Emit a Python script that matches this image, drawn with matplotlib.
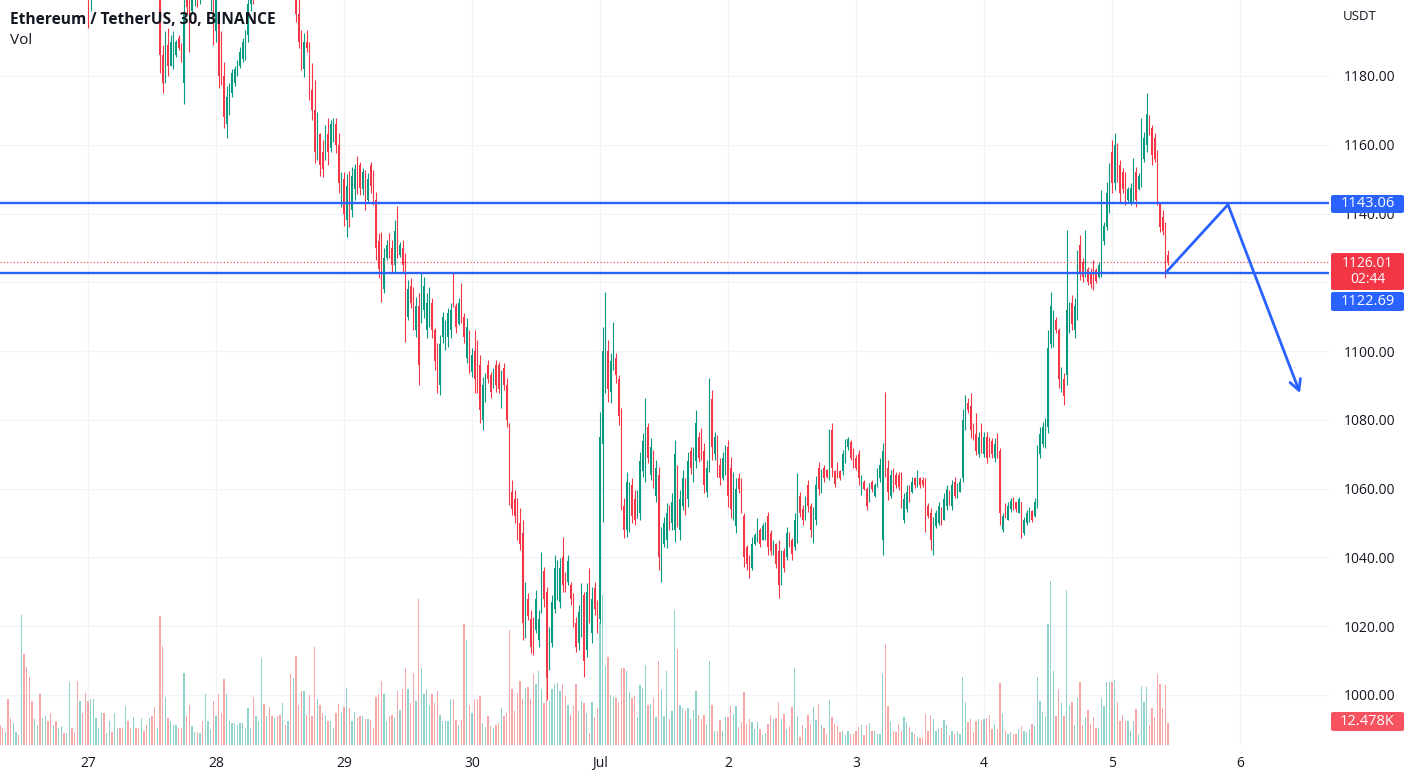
import matplotlib
matplotlib.use("Agg")
import matplotlib.pyplot as plt
from matplotlib.patches import FancyBboxPatch
import numpy as np

# ---------------- data (30-min bars, index 0 = 27 Jun 00:00) ----------------
start_index = -33

opens = [
    1232,1228,1226,1231,1227,1224,1229,1233,1231,1242,1236,1230,1225,1221,1226,1229,1223,1227,1231,1228,1224,1227,1223,1226,1229,1227,1229,1235,1233,1231,1224,1228,1225,
    1219,1203,1209,1213,1217,1220,1224,1221,1226,1230,1227,1233,1236,1232,1228,1231,1226,1222,1225,1219,1215,1218,1213,1210,1214,1209,1206,1210,
    1186,1178,1189,1183,1185,1186,1191,1188,1178,1205,1200,1199,1202,1208,1204,1210,1206,1209,1203,1211,1193,1198,1186,1180,1166,1170,1175,1178,1181,1183,1185,1186,1192,1201,1206,
    1204,1209,1214,1220,1216,1220,1217,1214,1218,1216,1211,1215,1210,1212,1208,
    1209,1198,1190,1182,1190,1188,1176,1170,1157,1163,1158,1156,1163,1159,1161,1166,1160,1146,1150,1138,1148,1141,1147,1155,1154,1147,1152,1144,1154,1150,
    1144,1132,1131,1118,1127,1132,1130,1125,1139,1128,1130,1126,1110,1119,1116,1106,1113,1110,1112,1106,
    1109,1114,1106,1100,1090,1104,1102,1104,1106,1120,1113,1108,1118,1110,1098,1105,1094,1100,1097,1096,
    1080,1087,1096,1093,1090,1096,1096,1086,1095,1090,
    1078,1059,1057,1055,1050,1047,1018,1028,1022,1020,1019,1016,1025,1036,1030,1008,1015,1025,1029,1027,
    1040,1035,1033,1032,1028,1021,1015,1019,1029,1013,1034,1018,1031,1026,
    1022,1073,1098,1100,1088,1096,1098,1092,1082,1055,1048,1050,1061,1057,1052,1053,1065,1066,1078,1064,
    1070,1058,1064,1035,1044,1045,1054,1050,1048,1066,1048,1055,1061,1057,1071,1063,1068,1075,1076,1071,
    1059,1066,1086,1070,1074,1067,1063,1066,1072,1066,1053,1049,1063,1062,1052,1043,1040,1037,1044,
    1045,1048,1045,1046,1052,1047,1041,1044,1042,1033,1042,1040,1047,1045,1043,1046,1058,1054,1052,1061,
    1055,1046,1051,1066,1060,1066,1065.5,1064,1077,1065,1067,1065,1065,1068,1072,1073.5,1071,1069,1070,1059,
    1062,1060,1056,1062,1058,1061,1063,1045,1078,1066,
    1058,1065,1064,1064,1063,1051,1054,1060,1059,1063,1061,1063,1062.5,1061,1055,1053,1044,1049,1050,1054,
    1051,1055,1059,1055,1062,1058,1059,1063,1079,1085,1084,1078,1076,1070,1078,1070,1075,1074,1074,1069,
    1075,1071,1048,1055,1051,1054,1057,1056,1053,1056,
    1047,1050,1051,1053.5,1052,1056,1070,1073,1073,1078,1102,1103,1109,1106,1089,1092,1093,1107,1114,1106,
    1111,1131,1126,1123,1124,1123,1125,1123.5,1121.5,1124,1132,1136,1142,1158,1149,1159,1154,1152,1150,1144,
    1143.5,1145,1152,1147,1149,1156,1160,1168,1165,1162,1156,1143,1139,1135,1128,
]

highs = [
    1235,1230,1234,1233,1229,1231,1236,1235,1246,1245,1238,1232,1227,1228,1231,1231,1229,1233,1233,1230,1229,1229,1228,1231,1231,1231,1238,1237,1235,1233,1230,1230,1227,
    1221,1212,1215,1219,1222,1226,1226,1229,1232,1232,1235,1238,1238,1234,1233,1233,1228,1227,1227,1221,1220,1220,1215,1216,1216,1211,1213,1213,
    1189,1193,1194,1192,1193,1190.5,1192,1189.6,1203,1210,1205,1205,1210,1212,1213,1214,1212,1215,1215,1214,1206,1199,1193,1184,1177,1178,1182,1183,1184.7,1188.4,1191,1193.4,1204,1208,1210,
    1212,1216,1223,1222,1222,1224,1221,1220,1223,1219,1217,1218,1214,1215,1213,
    1212,1203,1193.4,1192.5,1193.4,1190,1183.8,1178.8,1169.5,1163.4,1161.4,1165.8,1167.8,1167.2,1167.8,1167.8,1163.4,1152.1,1152.1,1151.5,
    1152.4,1153.6,1154.5,1156.8,1155,1153.3,1152.7,1151.8,1155,1152.7,
    1146.3,1134.3,1134.6,1130,1132.3,1134.3,1132.3,1138.1,1142.2,1131.7,1132.3,1128.5,1120.7,1121.3,1118.6,1115.7,1116.9,1122.7,1121.6,1116.9,
    1118.6,1115.4,1106.7,1102.4,1104.7,1111.4,1109,1112.5,1114,1122.7,1114,1115.4,1119.8,1111.1,1109.6,1106.1,1100.9,1106.1,1103.2,1098.9,
    1092.5,1093.6,1097.4,1093.9,1095.1,1097.4,1096.8,1094.5,1096.5,1092.2,
    1079.1,1062.5,1059.6,1057.3,1054.4,1050.9,1032.9,1029.7,1024.7,1022.7,1030.5,1024.7,1041.6,1037.2,1031.4,1019.8,1029.1,1040.7,1039.3,1039.8,
    1046,1035.8,1040.7,1032.9,1029.7,1022.7,1026.2,1032.6,1030,1032.6,1036.9,1031.4,1032.9,1027.6,
    1082.3,1107,1117.2,1103.2,1099.5,1108.5,1099.5,1093,1083.5,1057.3,1064.8,1061.9,1063.1,1059.6,1059.6,1070.6,1076.2,1086.4,1079.1,1074.8,
    1071.2,1068.3,1066.3,1048.9,1051.8,1055.8,1055.3,1058.8,1074.2,1067,1059.6,1065.4,1063,1070.6,1072,1072.2,1082.9,1076.5,1077.6,1073.3,
    1068.3,1092.2,1088.7,1076.5,1075.6,1068.9,1070.6,1072.7,1074.2,1069.2,1064.9,1063.1,1064.5,1063.1,1052.9,1043.6,1040.7,1046,1047.1,
    1051.5,1048.6,1050,1050.3,1053.2,1048,1045.1,1044.2,1045.1,1042.2,1042.8,1048.9,1047.4,1045.7,1052.9,1064.5,1059,1055.3,1057.9,1062.5,
    1055.8,1054.7,1063.7,1067.8,1065.7,1066.9,1065.7,1077.4,1079.1,1065.4,1067.8,1065.4,1071.2,1074.5,1075,1074.2,1071.8,1069.8,1071.2,1064,
    1062.5,1060.5,1061.6,1062.5,1061.6,1066,1068.9,1073.3,1088.1,1068.3,
    1065.4,1066,1064.8,1064.8,1064.8,1058.7,1061,1061,1063.4,1063.4,1065.4,1063.4,1063.4,1063.1,1055.8,1054.4,1051.8,1053.8,1056.1,1054.7,
    1058.7,1061,1059.6,1062.5,1063.4,1061.6,1063.1,1083.2,1087.2,1086.4,1087.8,1079.1,1082,1076.5,1079.1,1076.5,1076.5,1075,1074.8,1074.8,
    1076.2,1071.8,1052.9,1055.8,1056.1,1057.3,1057.6,1056.1,1057.6,1056.1,
    1051.8,1053.8,1054.7,1053.8,1057.3,1072.7,1077.9,1079.4,1080.6,1106.1,1117.2,1112,1110,1106.7,1095.4,1093.6,1135.2,1114.3,1116.3,1115.4,
    1129.4,1133.8,1127.1,1135.2,1124.5,1124.2,1126.5,1124.2,1126,1146.9,1137.5,1149.2,1154.7,1161.4,1163.4,1160.5,1155.6,1153.2,1152.1,1147.7,
    1148.9,1156.2,1153.5,1151.8,1167.8,1163.7,1175.1,1168.7,1165.8,1163.4,1158.5,1143.1,1141,1137.5,1129.4,
]

lows = [
    1225,1223,1224,1225,1221,1222,1227,1228,1229,1233,1227,1222,1217,1219,1224,1220,1221,1225,1226,1221,1222,1220,1221,1224,1225,1225,1227,1230,1228,1221,1222,1222,1215,
    1194,1199,1206,1210,1214,1217,1218,1219,1224,1225,1225,1230,1230,1226,1226,1224,1219,1220,1217,1213,1213,1211,1208,1208,1207,1204,1204,1181,
    1175,1178,1180,1183,1182,1185.5,1187.5,1184,1172,1198,1187,1198,1200.5,1200,1201,1203,1202.5,1204,1199,1189,1190,1176.5,1177.4,1165,1162,1168.7,1174,1177,1180,1182.3,1184,1184.7,1190,1199,1201,
    1203,1206,1212,1213,1213,1215,1212,1210,1214,1209,1207,1208,1205,1206,1204,
    1195.7,1188,1181.7,1179.7,1187,1173,1167.2,1154.7,1155.6,1151,1150.5,1155.6,1154.2,1158,1160.8,1157.7,1146,1142,1136.5,1133.3,
    1136,1139,1143.9,1145.8,1145.4,1145.4,1141,1143.4,1146,1142.5,
    1126.5,1121.3,1114.3,1116.9,1126.5,1127,1123,1123,1127,1127.3,1123,1102.6,1109,1112.5,1106.1,1104,1090.1,1108.2,1109.6,1103.8,
    1107,1103.8,1094.5,1087.8,1087.2,1102.4,1100.3,1101.2,1103.8,1112.8,1105.3,1107.6,1108.2,1102.4,1096.5,1093.6,1092.5,1087.8,1087.8,1079.1,
    1077.1,1085.2,1090.7,1086.4,1089.3,1088.1,1087.8,1083.5,1088.7,1078,
    1055.3,1052.3,1050,1045.1,1042.2,1016,1016.6,1021.8,1012.2,1011.6,1018,1013.9,1023.8,1025.6,998.6,1007.3,1014,1023.8,1027.6,1025.3,
    1030,1030,1032,1026.2,1019.8,1012.5,1013.1,1016.9,1005.2,1011,1020.9,1015.1,1023.3,1018,
    1021,1050.3,1087.8,1085.2,1085,1094.5,1090.7,1078.5,1053.8,1045.6,1045.9,1047.4,1050,1049.4,1051.5,1050.9,1063.4,1062,1067.5,1062.5,
    1060.2,1056.1,1036.4,1032.9,1043,1042.8,1047.9,1047.9,1044.5,1048.9,1045.1,1053.8,1052.3,1054.7,1064.2,1062,1066,1067.8,1068.3,1058.7,
    1057.6,1064.9,1068.3,1068.3,1063.4,1061,1062.5,1064,1054.7,1051.5,1050.9,1047.1,1058.7,1052.9,1037.2,1036.4,1034,1036.4,1043.6,
    1044.5,1043,1045,1045,1040.7,1040.7,1040.7,1037,1028.2,1032,1035.8,1039.3,1043,1039.3,1042.2,1044.2,1051.8,1049.4,1050.9,1053.2,
    1046,1044.2,1049.4,1058.2,1058.7,1061.9,1063.1,1062.5,1063.4,1060.5,1063.1,1062.5,1064,1067.5,1071.2,1068.3,1066,1065.4,1061,1058.2,
    1059.6,1053.8,1056,1059,1057.6,1060.5,1062,1040.7,1063.4,1056.7,
    1057.3,1059,1060.2,1059.6,1054.4,1050,1053.2,1056.1,1058.7,1060.2,1060.5,1060.2,1060.5,1047.4,1051.5,1042.2,1040.7,1048.6,1049.4,1049.4,
    1050.9,1053.8,1055.3,1053.8,1057.3,1057.3,1059,1062,1077.1,1082,1074.8,1074.2,1069.8,1069.2,1070.4,1069.2,1067.5,1069.2,1068.9,1067.8,
    1068.9,1049.4,1047.4,1051.5,1050.9,1053.2,1053.8,1053.2,1052.9,1045.7,
    1046.5,1049.4,1050.3,1050.3,1051.8,1054.4,1068.9,1072.1,1071.8,1076.2,1100.9,1101.2,1105.3,1089.3,1088.1,1084.3,1090.1,1105.3,1106.1,1103.8,
    1109,1120.7,1120.1,1121.6,1119.2,1118.4,1117.8,1119.8,1121.3,1121.6,1130.9,1135.2,1140.2,1146,1146.9,1149.2,1143.1,1146,1142.5,1143.4,
    1142.5,1143.4,1141.9,1146.9,1147.7,1155,1157.9,1162.8,1154.1,1155,1142.5,1134.6,1133.8,1121.3,1125,
]

closes = [
    1228,1226,1231,1227,1224,1229,1233,1231,1242,1236,1230,1225,1221,1226,1229,1223,1227,1231,1228,1224,1227,1223,1226,1229,1227,1229,1235,1233,1231,1224,1228,1225,1219,
    1203,1209,1213,1217,1220,1224,1221,1226,1230,1227,1233,1236,1232,1228,1231,1226,1222,1225,1219,1215,1218,1213,1210,1214,1209,1206,1210,1186,
    1178,1189,1183,1190,1191,1190,1188,1185,1198,1200,1190,1204,1208,1204,1210,1206,1209,1212,1211,1193,1203,1180,1179,1168,1174,1176,1181,1182,1184,1187,1190,1192,1201,1206,1204,
    1209,1214,1220,1216,1220,1217,1214,1218,1216,1211,1215,1210,1212,1208,1209,
    1198,1190,1184,1190,1188,1176,1170,1158,1166,1154,1153,1163,1158,1166,1166,1160,1149,1150,1140,1148,
    1141,1151,1153,1148,1147.5,1152,1143,1150,1148,1144,
    1130,1124,1118,1127,1131,1128,1125,1135,1130,1131,1125,1108,1118,1114,1108,1113,1096,1120,1119,1114,
    1116,1106,1097,1091,1102,1110,1107,1111,1112,1115,1107,1114,1110,1104,1107,1096,1099,1092,1090,1083,
    1090,1092,1092,1088,1094,1090,1089,1093,1090,1080,
    1058,1054,1052,1047,1044,1021,1030,1023,1014,1013,1028,1022,1038,1028,1005,1017,1027,1037,1036,1037,
    1032,1031,1039,1028,1022,1014,1024,1030,1010,1030,1024,1028,1025,1020,
    1075,1100,1110,1089,1097,1106,1093,1081,1058,1048,1062,1059,1052,1051,1058,1068,1074,1080,1069,1072,
    1062,1066,1040,1046,1050,1053,1049,1056,1070,1052,1057,1063,1054,1068,1066,1070,1079,1069,1070,1061,
    1066,1085,1072,1075,1066,1063,1069,1071,1058,1054,1062,1060,1060,1055,1040,1038,1035,1044,1046.5,
    1050,1044,1049,1049,1043,1042,1044,1038,1032,1040,1037,1047,1044,1041,1051,1061,1053,1051,1056,1055,
    1048,1052,1061,1060,1064,1063,1063.5,1074,1066,1061.5,1064,1063,1070,1073,1074.5,1069,1067,1066,1063,1063,
    1060,1055,1060,1060,1061,1065,1067,1071,1066,1059,
    1064,1061,1061,1060.5,1056,1057,1059,1057,1062,1061,1064.5,1061,1061,1050,1052,1045,1050,1053,1055,1051,
    1057,1060,1056,1061,1058,1061,1062,1080,1085,1083,1077,1075,1071,1075,1072,1075,1069,1070,1070,1073,
    1070,1053,1052,1052,1055,1056.5,1054,1054,1057,1049,
    1051,1053,1054,1051,1056,1070,1076,1078,1079,1101,1113,1110,1106,1092,1094,1087,1112,1113,1108,1113,
    1126,1123,1121.5,1132,1120,1119.5,1119,1120.5,1125,1140,1136.5,1146,1152,1149,1160,1151,1146,1147,1144,1147,
    1147.5,1154,1144,1151,1162,1162,1169,1164,1157,1156,1144,1136,1135,1127,1126.01,
]

# volume in thousands of ETH
volumes = [
    11.5,9.6,7.6,25.8,15.3,12.4,7.6,5.7,73.5,51.6,44.3,38.6,25.2,14.9,11.5,28.7,15.3,16.2,13.4,18.1,
    11.5,13.4,9.6,10.5,6.7,6.7,35.7,9.6,7.6,36.3,24.8,18.1,29.6,24.8,25.8,25.8,15.3,9.6,18.1,18.1,
    6.7,13.4,7.6,18.1,9.9,9.9,9.9,22.0,13.4,9.6,15.7,9.6,9.6,15.3,8.0,11.1,15.3,16.2,21.4,9.6,
    73.0,56.3,27.1,15.3,13.8,11.5,11.5,9.6,9.9,41.1,16.2,22.5,10.5,7.6,7.3,6.7,13.4,28.7,13.4,9.0,
    25.2,16.2,28.7,18.1,37.2,28.7,13.4,12.4,12.4,11.5,12.4,12.4,9.6,21.0,9.6,27.1,16.2,13.4,49.3,23.3,
    16.2,21.4,16.2,15.3,16.2,17.2,23.9,11.5,13.4,40.5,37.8,50.6,22.9,30.9,30.6,17.2,28.3,16.6,55.8,25.8,
    22.9,18.1,16.8,13.4,13.4,9.6,18.1,23.3,18.7,21.4,32.5,21.0,13.4,18.7,15.3,16.2,16.2,14.9,14.9,14.3,
    9.6,27.1,29.0,36.3,29.0,13.4,16.2,17.2,15.3,30.6,20.1,31.5,43.4,31.7,23.9,40.9,24.8,82.7,43.5,28.7,
    31.5,22.9,28.7,23.9,30.9,17.2,13.4,13.4,13.8,25.8,25.8,14.3,11.5,14.3,68.8,59.6,22.5,18.1,25.8,25.8,
    27.7,12.4,10.3,16.2,10.5,9.6,11.5,12.4,21.0,16.2,18.1,65.3,31.5,19.1,29.6,36.3,25.8,32.5,32.9,25.8,
    40.5,34.4,42.0,31.5,23.9,43.9,24.8,31.5,34.4,35.3,30.6,34.8,27.7,22.9,17.2,22.0,34.4,19.1,25.2,23.9,
    18.1,6.7,
    24.5,15.9,20.7,70.0,85.0,45.0,49.8,28.4,27.4,26.4,24.1,43.7,43.7,41.8,29.9,26.4,28.0,15.9,34.1,32.6,
    45.6,22.6,23.0,26.8,15.9,47.9,31.2,16.5,41.8,14.9,19.2,76.3,54.2,22.6,20.7,19.7,21.1,14.9,19.7,30.7,
    16.9,14.9,16.9,12.1,47.9,22.6,8.2,8.2,14.0,8.2,15.9,15.9,22.2,17.8,22.2,10.2,13.0,30.3,12.1,14.9,
    13.0,8.8,13.0,9.2,5.4,6.9,12.1,16.9,14.9,15.3,24.5,14.9,17.8,9.2,10.7,21.7,43.7,16.5,4.4,11.1,
    9.6,16.9,12.1,21.7,14.0,23.0,11.1,9.6,6.3,25.5,15.9,12.1,10.7,7.3,8.2,5.4,8.2,6.3,6.3,7.7,
    10.2,11.5,5.7,11.5,12.6,8.2,8.2,6.3,6.3,40.2,57.1,22.2,13.4,7.7,7.3,12.1,7.7,15.9,13.0,10.2,
    7.3,6.3,4.4,3.8,3.8,17.8,8.2,17.2,14.9,8.2,8.8,9.6,14.0,11.1,5.7,8.2,6.3,7.7,6.3,38.3,
    24.1,13.0,14.9,7.3,13.4,14.9,14.0,14.9,15.3,17.2,9.2,12.1,8.8,35.1,18.4,7.7,6.3,7.3,6.3,6.3,
    9.2,10.7,8.2,7.3,8.8,12.1,10.7,38.3,24.9,18.8,16.5,68.6,93.1,41.8,16.5,31.8,23.6,16.5,87.8,22.6,
    24.1,11.1,27.4,36.0,11.1,15.9,19.7,12.1,15.9,9.6,9.6,26.8,22.2,36.0,35.6,36.0,37.0,24.1,13.4,17.2,
    13.4,13.4,7.7,13.4,20.3,6.3,33.7,24.5,33.1,11.5,21.1,15.9,40.2,34.5,21.1,34.1,12.478,
]

day_ticks = [0, 48, 96, 144, 192, 240, 288, 336, 384, 432]
day_labels = ["27", "28", "29", "30", "Jul", "2", "3", "4", "5", "6"]
price_ticks = [1000, 1020, 1040, 1060, 1080, 1100, 1120, 1140, 1160, 1180]

level_upper = 1143.06
level_lower = 1122.69
last_price = 1126.01
countdown = "02:44"
last_volume_label = "12.478K"
projection_bars = [404.0, 427.5, 454.5]
projection_prices = [1122.69, 1142.6, 1087.8]

# ---------------- styling ----------------
plt.rcParams["font.family"] = ["Open Sans", "DejaVu Sans"]
UP = "#089981"
DOWN = "#f23645"
VUP = (38/255, 166/255, 154/255, 0.5)
VDOWN = (239/255, 83/255, 80/255, 0.5)
BLUE = "#2962ff"
TXT = "#131722"
GRID = "#f0f3fa"

W, H = 1411, 778
fig = plt.figure(figsize=(W / 100, H / 100), dpi=100)
fig.patch.set_facecolor("white")

plot_right_px = 1329
rect = [0, 33 / H, plot_right_px / W, 745 / H]
px_per_bar = 128 / 48
x_left = start_index
x_right = (plot_right_px - 88) / px_per_bar
y_low = 1000 - 50 / (619 / 180)
y_high = 1180 + 76 / (619 / 180)

# background grid axes
axg = fig.add_axes(rect, zorder=0)
axg.set_xlim(x_left, x_right)
axg.set_ylim(y_low, y_high)
axg.set_xticks(day_ticks)
axg.set_yticks(price_ticks)
axg.grid(True, color=GRID, linewidth=0.9)
axg.tick_params(length=0, labelbottom=False, labelleft=False)
for s in axg.spines.values():
    s.set_visible(False)

# volume axes
axv = fig.add_axes(rect, zorder=1)
axv.patch.set_alpha(0)
idx = np.arange(start_index, start_index + len(opens))
o = np.array(opens, dtype=float)
c = np.array(closes, dtype=float)
hi = np.array(highs, dtype=float)
lo = np.array(lows, dtype=float)
v = np.array(volumes, dtype=float)
up = c >= o
axv.bar(idx, v, width=0.55, color=[VUP if u else VDOWN for u in up], linewidth=0)
axv.set_xlim(x_left, x_right)
axv.set_ylim(0, 745 * 0.567)
axv.axis("off")

# price axes
ax = fig.add_axes(rect, zorder=2)
ax.patch.set_alpha(0)
ax.set_xlim(x_left, x_right)
ax.set_ylim(y_low, y_high)
cols = [UP if u else DOWN for u in up]
ax.vlines(idx, lo, hi, colors=cols, linewidth=0.8)
body_lo = np.minimum(o, c)
body_h = np.maximum(np.abs(c - o), 0.4)
ax.bar(idx, body_h, bottom=body_lo, width=0.62, color=cols, linewidth=0)

ax.axhline(level_upper, color=BLUE, linewidth=1.7, zorder=5)
ax.axhline(level_lower, color=BLUE, linewidth=1.7, zorder=5)
ax.axhline(last_price, color=DOWN, linewidth=0.8, linestyle=(0, (1, 2)), zorder=4)

ax.plot(projection_bars[:2], projection_prices[:2], color=BLUE, linewidth=2.0,
        solid_capstyle="round", zorder=6)
ax.annotate("", xy=(projection_bars[2], projection_prices[2]),
            xytext=(projection_bars[1], projection_prices[1]),
            arrowprops=dict(arrowstyle="->,head_length=0.75,head_width=0.4",
                            color=BLUE, linewidth=2.0, shrinkA=0, shrinkB=0),
            zorder=6)

ax.set_xticks(day_ticks)
ax.set_xticklabels(day_labels)
ax.yaxis.tick_right()
ax.set_yticks(price_ticks)
ax.set_yticklabels([f"{p:.2f}" for p in price_ticks])
ax.tick_params(axis="x", length=0, pad=8, labelsize=10, labelcolor=TXT)
ax.tick_params(axis="y", length=0, pad=11, labelsize=10, labelcolor=TXT)
for s in ax.spines.values():
    s.set_visible(False)

# ---------------- overlay texts and price tags ----------------
def fx(px):
    return px / W

def fy(py):
    return 1 - py / H

fig.text(fx(10), fy(20), "Ethereum / TetherUS, 30, BINANCE", fontsize=11.2,
         fontweight="bold", color=TXT, ha="left", va="center")
fig.text(fx(10), fy(41), "Vol", fontsize=11, color=TXT, ha="left", va="center")
fig.text(fx(1343), fy(16), "USDT", fontsize=9.5, color=TXT, ha="left", va="center")

def tag(y_top, y_bot, color, text, size=10.5, spacing=1.0):
    box = FancyBboxPatch((fx(1331), fy(y_bot)), fx(1404) - fx(1331), fy(y_top) - fy(y_bot),
                         boxstyle="round,pad=0,rounding_size=0.002",
                         transform=fig.transFigure, facecolor=color,
                         edgecolor="none", zorder=10)
    fig.patches.append(box)
    fig.text(fx(1367.5), fy((y_top + y_bot) / 2), text, fontsize=size, color="white",
             ha="center", va="center", multialignment="center",
             linespacing=spacing, zorder=11)

tag(195, 213, BLUE, f"{level_upper:.2f}")
tag(253, 290, DOWN, f"{last_price:.2f}\n{countdown}", size=10, spacing=1.15)
tag(292, 311, BLUE, f"{level_lower:.2f}")
tag(712, 731, "#f7525f", last_volume_label)

fig.savefig("out.png", dpi=100)
